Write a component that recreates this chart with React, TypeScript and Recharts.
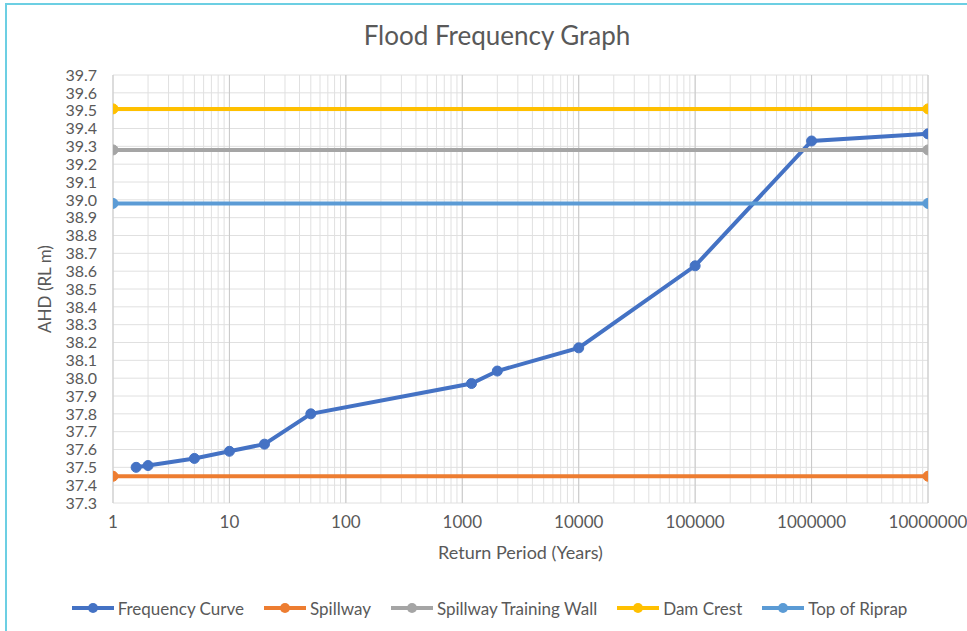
import React from 'react';
import { LineChart, Line, XAxis, YAxis, CartesianGrid, Legend } from 'recharts';

const freqReturnPeriods = [1.58, 2, 5, 10, 20, 50, 1200, 2000, 10000, 100000, 1000000, 10000000];
const freqLevels = [37.5, 37.51, 37.55, 37.59, 37.63, 37.8, 37.97, 38.04, 38.17, 38.63, 39.33, 39.37];

const levelLinePeriods = [1, 10000000];
const spillwayLevel = 37.45;
const trainingWallLevel = 39.28;
const damCrestLevel = 39.51;
const ripRapLevel = 38.98;

const majorTicks = [1, 10, 100, 1000, 10000, 100000, 1000000, 10000000];
const minorMultipliers = [1, 2, 3, 4, 5, 6, 7, 8, 9];
const yTicks = [37.3, 37.4, 37.5, 37.6, 37.7, 37.8, 37.9, 38.0, 38.1, 38.2, 38.3, 38.4, 38.5, 38.6, 38.7, 38.8, 38.9, 39.0, 39.1, 39.2, 39.3, 39.4, 39.5, 39.6, 39.7];

const allXTicks: number[] = [];
majorTicks.forEach((m, i) => {
  if (i === majorTicks.length - 1) {
    allXTicks.push(m);
  } else {
    minorMultipliers.forEach((k) => allXTicks.push(m * k));
  }
});

const freqData = freqReturnPeriods.map((x, i) => ({ x, y: freqLevels[i] }));
const flat = (v: number) => levelLinePeriods.map((x) => ({ x, y: v }));

const series = [
  { name: 'Frequency Curve', color: '#4472C4', data: freqData },
  { name: 'Spillway', color: '#ED7D31', data: flat(spillwayLevel) },
  { name: 'Spillway Training Wall', color: '#A5A5A5', data: flat(trainingWallLevel) },
  { name: 'Dam Crest', color: '#FFC000', data: flat(damCrestLevel) },
  { name: 'Top of Riprap', color: '#5B9BD5', data: flat(ripRapLevel) },
];
const seriesOrder = series.map((s) => s.name);

const FONT = 'Lato, "Open Sans", sans-serif';
const TEXT = '#595959';

const renderLegend = (props: any) => {
  const items = [...(props.payload || [])].sort(
    (a: any, b: any) => seriesOrder.indexOf(a.value) - seriesOrder.indexOf(b.value)
  );
  return (
    <div style={{ display: 'flex', justifyContent: 'center', alignItems: 'center', fontFamily: FONT, fontSize: 17, color: TEXT, height: 30, paddingLeft: 50 }}>
      {items.map((it: any, i: number) => (
        <div key={i} style={{ display: 'flex', alignItems: 'center', marginLeft: i === 0 ? 0 : 19 }}>
          <svg width={44} height={14}>
            <line x1={1} y1={7} x2={43} y2={7} stroke={it.color} strokeWidth={4} />
            <circle cx={22} cy={7} r={5} fill={it.color} />
          </svg>
          <span style={{ marginLeft: 3 }}>{it.value}</span>
        </div>
      ))}
    </div>
  );
};

export default function App() {
  return (
    <div style={{ position: 'absolute', left: 0, top: 0, width: 967, height: 631, background: '#fff', overflow: 'hidden' }}>
      <div style={{ position: 'absolute', left: 5, top: 3, width: 1000, height: 700, borderLeft: '2px solid #6ccfe3', borderTop: '2px solid #6ccfe3', boxSizing: 'border-box' }} />
      <div style={{ position: 'absolute', left: 0, top: 20, width: 994, textAlign: 'center', fontFamily: FONT, fontSize: 26, lineHeight: '30px', color: TEXT }}>
        Flood Frequency Graph
      </div>
      <div style={{ position: 'absolute', left: 0, top: 0 }}>
        <LineChart width={967} height={631} margin={{ top: 75, right: 39, left: 0, bottom: 8 }}>
          <CartesianGrid stroke="#e0e0e0" strokeWidth={1} xAxisId="minor" />
          <CartesianGrid stroke="#c9c9c9" strokeWidth={1} horizontal={false} xAxisId="major" />
          <XAxis
            xAxisId="major"
            type="number"
            dataKey="x"
            scale="log"
            domain={[1, 10000000]}
            ticks={majorTicks}
            interval={0}
            allowDataOverflow
            height={0}
            hide
          />
          <XAxis
            xAxisId="minor"
            type="number"
            dataKey="x"
            scale="log"
            domain={[1, 10000000]}
            ticks={allXTicks}
            interval={0}
            allowDataOverflow
            axisLine={false}
            tickLine={false}
            tickSize={6}
            tickMargin={7}
            tick={{ fill: TEXT, fontSize: 17, fontFamily: FONT }}
            tickFormatter={(v: number) => (majorTicks.includes(v) ? String(v) : '')}
            height={90}
            label={{ value: 'Return Period (Years)', position: 'insideTop', offset: 43, fill: TEXT, fontSize: 18, fontFamily: FONT }}
          />
          <YAxis
            type="number"
            domain={[37.3, 39.7]}
            ticks={yTicks}
            interval={0}
            allowDataOverflow
            axisLine={false}
            tickLine={false}
            tickSize={6}
            tickMargin={10}
            width={113}
            tick={{ fill: TEXT, fontSize: 16, fontFamily: FONT }}
            tickFormatter={(v: number) => v.toFixed(1)}
            label={{ value: 'AHD (RL m)', angle: -90, position: 'insideLeft', offset: 45, fill: TEXT, fontSize: 17, fontFamily: FONT, style: { textAnchor: 'middle' } }}
          />
          <Legend verticalAlign="bottom" height={30} content={renderLegend} />
          {series.map((s) => (
            <Line
              key={s.name}
              xAxisId="minor"
              name={s.name}
              data={s.data}
              dataKey="y"
              stroke={s.color}
              strokeWidth={4}
              dot={{ r: 5, fill: s.color, stroke: s.color, strokeWidth: 1 }}
              activeDot={false}
              isAnimationActive={false}
              legendType="line"
            />
          ))}
        </LineChart>
      </div>
    </div>
  );
}
